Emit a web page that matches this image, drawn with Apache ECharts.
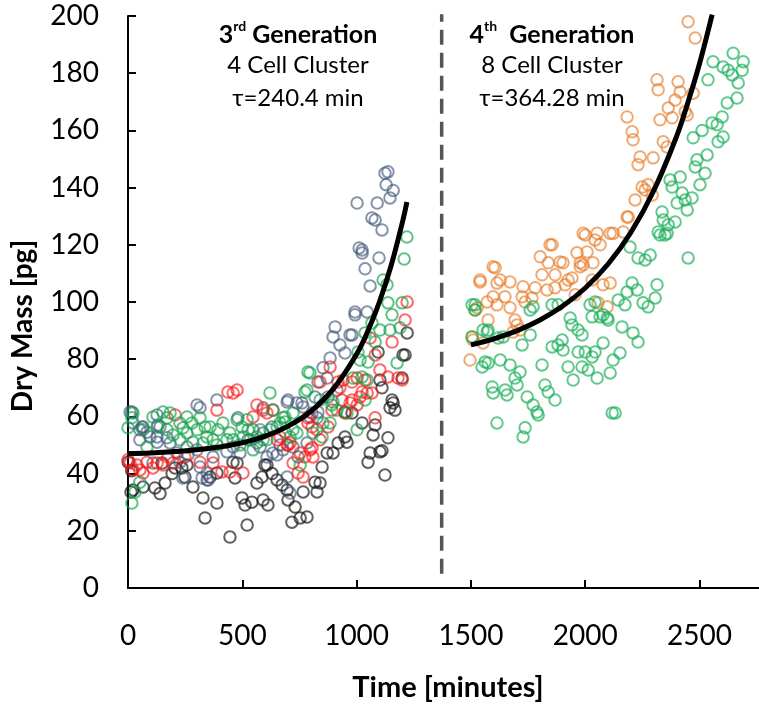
<!DOCTYPE html>
<html>
<head>
<meta charset="utf-8">
<script src="https://cdn.jsdelivr.net/npm/echarts@6/dist/echarts.min.js"></script>
<style>html,body{margin:0;padding:0;background:#fff;}#c{width:759px;height:704px;}</style>
</head>
<body>
<div id="c"></div>
<script>
// ---- data ----
const xTicks = [0, 500, 1000, 1500, 2000, 2500];
const yTicks = [0, 20, 40, 60, 80, 100, 120, 140, 160, 180, 200];
const dividerX = 1372;
const dividerY = [5, 200.6];

const gen3Black = [[1,44],[16,41],[13,33.6],[22,34.3],[66,35.3],[118,35],[140,33],[149,43.7],[162,36.7],[193,40],[206,42],[236,42],[249,38.8],[258,43],[284,35.3],[328,31.5],[337,24.5],[359,38.8],[389,29.7],[389,40.2],[446,17.8],[459,44],[477,43.7],[468,38.5],[499,31.5],[512,29],[521,22],[542,30],[564,36.7],[586,38.8],[591,30.8],[599,43],[608,43],[612,29],[630,40],[652,37.8],[674,36],[696,34.3],[700,30.8],[717,23],[731,28.3],[753,24.5],[766,33.6],[783,24.8],[818,37],[827,33.6],[840,36.7],[849,42.3],[871,47.2],[897,47.2],[919,50.7],[949,52.8],[958,51],[949,61.5],[980,61.2],[1024,57.7],[1050,44],[1059,47.2],[1072,53.5],[1081,57],[1094,82.5],[1102,47.6],[1102,72.7],[1111,70],[1111,48],[1124,39.5],[1137,52.5],[1146,63],[1155,65.7],[1160,64.7],[1168,62.2],[1199,73.4],[1203,81.5],[1212,81.5],[1221,89.2]];

const gen3Slate = [[9,61.5],[17,61.5],[22,57.7],[52,51.8],[52,55.3],[61,56.3],[66,56.3],[83,54.5],[96,52.8],[109,43.7],[127,60.5],[127,51],[127,52.8],[131,57],[140,56.3],[171,52.5],[184,50.7],[214,47.2],[227,44],[240,38.5],[258,49.3],[262,46.5],[302,64],[302,48.3],[315,63],[315,42.3],[324,38.5],[346,37.8],[346,40.2],[350,37.8],[372,45.8],[389,65.7],[433,47.6],[460,49.3],[481,59.5],[490,47.2],[525,51.8],[547,55.3],[564,50.7],[578,49.3],[591,63],[591,54.2],[608,45.8],[630,56.3],[634,47.2],[652,46.5],[665,50],[678,48.3],[687,54.5],[696,65],[696,38.8],[700,65.7],[709,33.2],[722,49.3],[739,64.7],[744,45.8],[761,64.7],[766,63.3],[783,50.7],[796,59.8],[805,61.2],[818,66.8],[827,59.5],[831,61.5],[831,72],[853,77],[871,73.4],[875,66.8],[884,80.4],[897,87.8],[906,91.3],[914,69.2],[927,85],[949,82.2],[971,88.5],[980,88.5],[993,95.5],[993,96.5],[1002,134.6],[1011,118.9],[1024,118.2],[1024,117.1],[1037,111.6],[1046,96.5],[1059,105.6],[1067,129.4],[1081,128.7],[1090,134.6],[1098,115.4],[1111,125.2],[1124,145],[1129,141],[1137,145.5],[1146,136.4],[1160,139]];

const gen3Red = [[0,44.8],[9,43.7],[22,41.3],[39,43],[52,41.3],[66,40.2],[83,44],[109,42],[127,43.7],[153,43],[175,45.8],[197,43.7],[206,60.5],[249,45.8],[315,44],[372,43.7],[389,62.2],[411,40.6],[437,68.5],[446,40.6],[460,68.2],[477,69.2],[503,40.2],[547,59.8],[564,64],[591,62.2],[608,61.2],[634,62.2],[652,51.8],[665,52.8],[696,50],[700,50],[709,50.7],[722,43.7],[744,40.2],[753,47.2],[766,38.8],[774,45.8],[787,57.7],[787,59.5],[796,48.3],[805,49],[805,56.3],[809,45.8],[827,55.3],[840,72],[840,51.8],[875,56.3],[884,77.3],[892,62.2],[919,72],[927,70],[936,65.7],[941,72.7],[949,61.2],[971,64.7],[980,72],[980,65.7],[1002,73.4],[1002,64],[1015,66.8],[1024,68.5],[1037,72.7],[1046,68.2],[1059,87.4],[1067,68.2],[1081,81.5],[1081,59.5],[1102,76.2],[1137,73.8],[1155,86],[1181,73.4],[1199,72.7],[1212,93.7],[1221,100]];

const gen3Green = [[0,56],[17,59.5],[22,61.2],[17,29.7],[31,33.6],[52,37],[66,55.3],[83,49.3],[109,59.8],[127,56.3],[153,61.5],[171,55.3],[171,59.5],[184,61.2],[197,53.5],[227,51.8],[227,57.7],[241,56],[258,59.8],[258,54.2],[280,57.7],[284,51],[302,55.3],[315,59.5],[328,50.7],[337,56.3],[345,52.8],[359,56.3],[372,51.8],[389,50],[394,55.3],[415,57.7],[433,51.8],[446,54.2],[460,51.8],[477,58.8],[490,50],[499,56.3],[503,52.8],[521,58.8],[525,55.3],[534,51.8],[547,48.3],[564,52.8],[578,55.3],[591,51.8],[608,51.8],[621,68.2],[621,55.3],[634,62.2],[652,56.3],[665,57.7],[678,59.5],[687,59.8],[687,58],[709,52.8],[722,55.3],[722,61.2],[739,54.2],[753,43],[774,68.5],[783,69.2],[787,75.5],[796,75.2],[809,54.2],[840,65.7],[849,52.8],[853,57.7],[884,57.7],[892,64],[897,65],[914,62.2],[958,61.2],[984,73.4],[1002,55.3],[1006,82.5],[1015,79.7],[1024,73.8],[1037,89.2],[1037,65.7],[1046,72.7],[1050,79],[1067,92.7],[1081,86],[1102,90.2],[1116,107.7],[1133,106],[1137,99.7],[1146,90.2],[1155,95.5],[1177,78.7],[1190,91],[1199,99.7],[1208,115],[1220,122.7]];

const gen4Orange = [[1496,79.7],[1505,87.8],[1509,86.7],[1518,97.2],[1527,98],[1540,107],[1540,107.7],[1553,85.7],[1571,100],[1575,93.7],[1597,101.8],[1597,112.3],[1606,112],[1614,99],[1614,106.6],[1628,107.7],[1649,101.8],[1671,107],[1671,98],[1684,89.5],[1693,93.7],[1702,92],[1715,90.2],[1724,101.8],[1728,105.3],[1737,100],[1767,101.4],[1781,105],[1803,115.8],[1811,109.5],[1833,104.2],[1838,113.7],[1846,120],[1855,120],[1868,109.5],[1868,105],[1890,114],[1903,113.7],[1912,106],[1925,107.7],[1942,108.4],[1956,102.5],[1964,117.2],[1978,113.7],[1978,112.3],[1991,113],[1991,124],[2000,123.4],[2008,117.5],[2030,107.7],[2034,113.7],[2043,121.7],[2052,124],[2056,99.7],[2065,120],[2078,106],[2096,98.3],[2109,106.6],[2109,124],[2122,124],[2166,124.5],[2183,129.7],[2183,164.7],[2188,129.7],[2205,159.5],[2209,156.7],[2218,135.7],[2231,148],[2240,150.7],[2249,140.2],[2262,139.2],[2275,141],[2293,137.4],[2297,150.4],[2314,177.7],[2319,174.2],[2327,163.7],[2341,156],[2358,154.2],[2363,167.8],[2380,164.4],[2393,170.6],[2406,177],[2415,173.4],[2437,166.5],[2446,165.4],[2450,198],[2472,173],[2481,192.3]];

const gen4Green = [[1505,87.8],[1505,99],[1518,99],[1518,97.2],[1549,77.3],[1553,90.2],[1562,79],[1571,89.5],[1575,78.7],[1575,90.2],[1593,70.3],[1597,68.2],[1614,57.7],[1619,87.4],[1628,79.7],[1641,87.8],[1649,69.2],[1658,67.5],[1671,78],[1693,73.4],[1702,71],[1715,75.5],[1724,85],[1728,52.8],[1737,56],[1746,66.8],[1759,88.5],[1759,97.2],[1772,64],[1772,98.3],[1789,61.5],[1794,60.5],[1811,78],[1824,71],[1838,68.5],[1855,84.3],[1855,99],[1868,65.7],[1881,85],[1881,99],[1899,86.7],[1903,83.2],[1925,77.3],[1934,94.4],[1942,92],[1947,72.7],[1969,90.2],[1969,82.5],[1986,88.5],[1986,77.3],[2000,82.5],[2013,76.2],[2021,99],[2030,94.8],[2030,80.8],[2043,100],[2043,82.5],[2052,73.4],[2065,94.8],[2078,95.5],[2078,85.7],[2096,94.4],[2100,93.7],[2109,75.2],[2118,61.2],[2122,79.7],[2131,61.2],[2144,100.7],[2152,82.2],[2161,91.3],[2174,99],[2183,103.5],[2196,119.2],[2205,106.6],[2209,89.2],[2227,104.2],[2231,115.4],[2231,86],[2253,99.7],[2262,114.7],[2275,98.3],[2284,116.4],[2306,101.4],[2314,106],[2319,124.5],[2327,123.4],[2336,131.5],[2341,128.7],[2349,123.4],[2358,124],[2363,127],[2371,142.7],[2380,140.2],[2393,128],[2402,134.6],[2415,143.7],[2424,138.1],[2437,135.7],[2446,132.2],[2450,115.4],[2467,136.4],[2472,157.4],[2481,147.2],[2489,149.7],[2502,141],[2511,160],[2524,145],[2533,151.4],[2537,177.7],[2555,162.6],[2559,184],[2577,162],[2581,156],[2599,164.7],[2603,182.2],[2603,157.7],[2621,169.6],[2625,181],[2643,179.4],[2647,187],[2664,171.3],[2669,176.6],[2686,181],[2691,184]];

const fit3 = [[0,47],[100,47.2],[200,47.7],[300,48.3],[400,49.3],[500,50.8],[600,53.1],[700,56.6],[800,61.8],[900,69.8],[1000,81.8],[1050,90],[1100,100.1],[1150,112.5],[1200,127.8],[1220,135]];
const fit4 = [[1500,85],[1600,87.1],[1700,89.9],[1800,93.6],[1900,98.5],[2000,104.9],[2100,113.3],[2200,124.4],[2300,139],[2400,158],[2450,170],[2500,183.4],[2555,200.5]];

const FONT = 'Lato, "Noto Sans", "DejaVu Sans", sans-serif';

function scatter(name, data, color) {
  return {
    name, type: 'scatter', data, symbol: 'circle', symbolSize: 11.5,
    itemStyle: { color: 'rgba(0,0,0,0)', borderColor: color, borderWidth: 2 },
    emphasis: { disabled: true }, silent: true, z: 2
  };
}

const chart = echarts.init(document.getElementById('c'), null, { renderer: 'canvas' });
chart.setOption({
  animation: false,
  backgroundColor: '#fff',
  grid: { left: 128, right: 0, top: 16, bottom: 116, containLabel: false },
  xAxis: {
    type: 'value', min: 0, max: 2760, interval: 500,
    axisLine: { show: true, onZero: false, lineStyle: { color: '#000', width: 2 } },
    axisTick: { show: true, inside: true, length: 8, lineStyle: { color: '#000', width: 2 }, customValues: xTicks.slice(1) },
    axisLabel: { customValues: xTicks, fontSize: 28, fontFamily: FONT, color: '#000', margin: 34, formatter: v => String(v) },
    splitLine: { show: false }
  },
  yAxis: {
    type: 'value', min: 0, max: 200, interval: 20,
    axisLine: { show: true, onZero: false, lineStyle: { color: '#000', width: 2 } },
    axisTick: { show: true, inside: true, length: 8, lineStyle: { color: '#000', width: 2 }, customValues: yTicks.slice(1) },
    axisLabel: { customValues: yTicks, fontSize: 28, fontFamily: FONT, color: '#000', margin: 29, formatter: v => String(v) },
    splitLine: { show: false }
  },
  series: [
    scatter('black', gen3Black, 'rgba(20,20,20,0.85)'),
    scatter('slate', gen3Slate, 'rgba(65,88,122,0.8)'),
    scatter('red', gen3Red, 'rgba(250,20,20,0.8)'),
    scatter('green3', gen3Green, 'rgba(15,160,70,0.82)'),
    scatter('orange', gen4Orange, 'rgba(230,122,38,0.8)'),
    scatter('green4', gen4Green, 'rgba(25,175,88,0.85)'),
    { type: 'line', data: fit3, smooth: 0.4, symbol: 'none', lineStyle: { color: '#000', width: 5 }, z: 5, silent: true },
    { type: 'line', data: fit4, smooth: 0.4, symbol: 'none', lineStyle: { color: '#000', width: 5 }, z: 5, silent: true },
    { type: 'line', data: [[dividerX, dividerY[0]], [dividerX, dividerY[1]]], symbol: 'none', clip: false,
      lineStyle: { color: '#555', width: 3.5, type: [15, 8] }, z: 4, silent: true }
  ],
  graphic: [
    { type: 'text', x: 298, y: 33, style: {
        text: '{b|3}{s|rd}{b| Generation}', align: 'center', verticalAlign: 'middle',
        rich: { b: { font: 'bold 25px ' + FONT, fill: '#000', verticalAlign: 'bottom', lineHeight: 28 },
                s: { font: 'bold 14px ' + FONT, fill: '#000', verticalAlign: 'top', lineHeight: 28, padding: [0,0,10,0] } } } },
    { type: 'text', x: 298, y: 65, style: { text: '4 Cell Cluster', font: '24px ' + FONT, fill: '#000', align: 'center', verticalAlign: 'middle' } },
    { type: 'text', x: 298, y: 98, style: { text: 'τ=240.4 min', font: '24px ' + FONT, fill: '#000', align: 'center', verticalAlign: 'middle' } },
    { type: 'text', x: 552, y: 33, style: {
        text: '{b|4}{s|th}{b|  Generation}', align: 'center', verticalAlign: 'middle',
        rich: { b: { font: 'bold 25px ' + FONT, fill: '#000', verticalAlign: 'bottom', lineHeight: 28 },
                s: { font: 'bold 14px ' + FONT, fill: '#000', verticalAlign: 'top', lineHeight: 28, padding: [0,0,10,0] } } } },
    { type: 'text', x: 552, y: 65, style: { text: '8 Cell Cluster', font: '24px ' + FONT, fill: '#000', align: 'center', verticalAlign: 'middle' } },
    { type: 'text', x: 552, y: 98, style: { text: 'τ=364.28 min', font: '24px ' + FONT, fill: '#000', align: 'center', verticalAlign: 'middle' } },
    { type: 'text', x: 448, y: 688, style: { text: 'Time [minutes]', font: 'bold 29px ' + FONT, fill: '#000', align: 'center', verticalAlign: 'middle' } },
    { type: 'text', x: 23, y: 326, rotation: Math.PI / 2, style: { text: 'Dry Mass [pg]', font: 'bold 28px ' + FONT, fill: '#000', align: 'center', verticalAlign: 'middle' } }
  ]
});
</script>
</body>
</html>
